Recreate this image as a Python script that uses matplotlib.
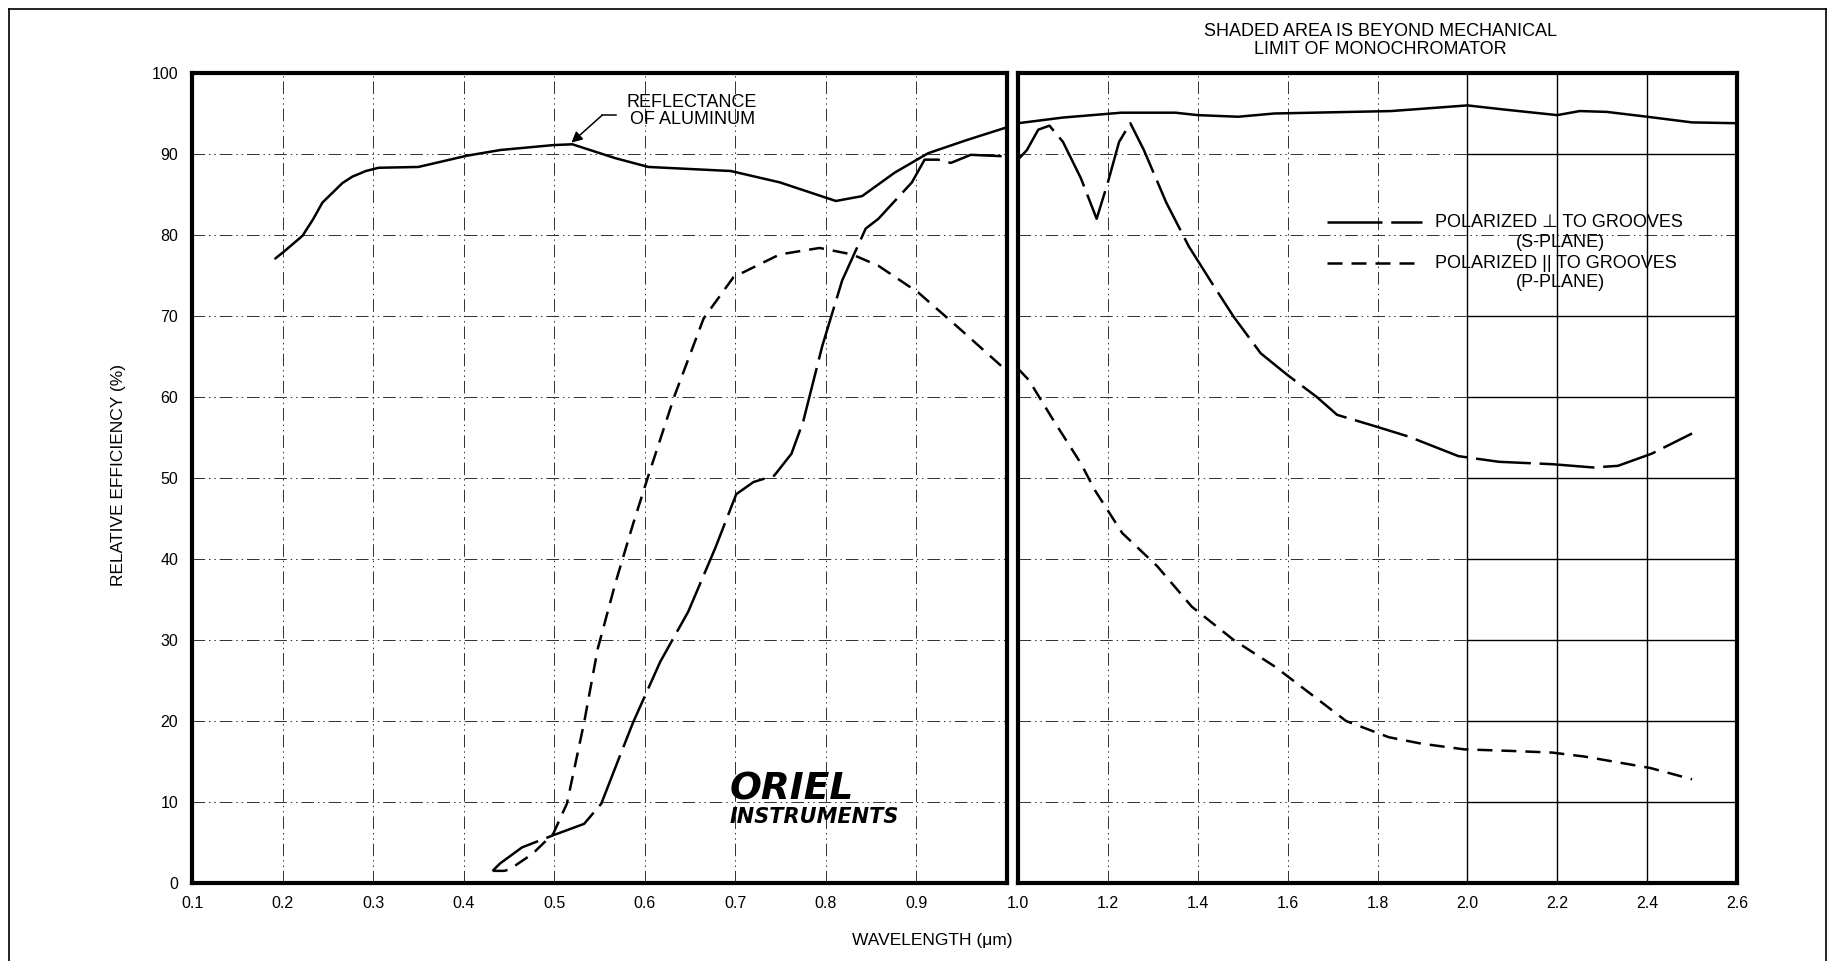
import matplotlib
matplotlib.use("Agg")
import matplotlib.pyplot as plt
from matplotlib.lines import Line2D

W, H = 1830, 961
plt.rcParams['font.family'] = ['Liberation Sans', 'DejaVu Sans']

# ---------------- data ----------------
refl_left_x = [0.192, 0.201, 0.222, 0.2335, 0.244, 0.255, 0.266, 0.277, 0.292, 0.306,
               0.350, 0.404, 0.441, 0.499, 0.520, 0.567, 0.604, 0.695, 0.749, 0.811,
               0.840, 0.876, 0.913, 0.955, 1.0]
refl_left_y = [77.1, 77.9, 79.9, 81.9, 84.0, 85.2, 86.4, 87.2, 87.9, 88.3,
               88.4, 89.8, 90.5, 91.1, 91.2, 89.5, 88.4, 87.9, 86.5, 84.2,
               84.8, 87.7, 90.1, 91.7, 93.3]
refl_right_x = [1.0, 1.1, 1.23, 1.35, 1.40, 1.49, 1.57, 1.83, 2.0, 2.08, 2.2, 2.25,
                2.31, 2.40, 2.5, 2.6]
refl_right_y = [93.8, 94.5, 95.1, 95.1, 94.8, 94.6, 95.0, 95.3, 96.0, 95.5, 94.8,
                95.3, 95.2, 94.6, 93.9, 93.8]

s_left_x = [0.432, 0.440, 0.4645, 0.499, 0.533, 0.552, 0.568, 0.587, 0.617, 0.648,
            0.678, 0.701, 0.720, 0.743, 0.762, 0.775, 0.796, 0.818, 0.844, 0.858,
            0.895, 0.909, 0.924, 0.938, 0.960, 1.0]
s_left_y = [1.5, 2.4, 4.4, 5.9, 7.3, 9.8, 14.4, 19.8, 27.3, 33.5,
            41.4, 48.0, 49.5, 50.3, 53.0, 57.0, 66.3, 74.4, 80.8, 82.0,
            86.5, 89.3, 89.3, 88.9, 89.9, 89.7]
s_right_x = [1.0, 1.02, 1.045, 1.07, 1.10, 1.14, 1.175, 1.20, 1.225, 1.25, 1.28,
             1.33, 1.38, 1.43, 1.48, 1.54, 1.60, 1.665, 1.71, 1.80, 1.87, 1.98,
             2.07, 2.19, 2.28, 2.335, 2.41, 2.5]
s_right_y = [89.3, 90.5, 93.0, 93.5, 91.5, 87.0, 82.0, 86.5, 91.5, 93.8, 90.5,
             84.0, 78.6, 74.2, 69.9, 65.4, 62.7, 60.0, 57.8, 56.3, 55.1, 52.7,
             52.0, 51.7, 51.3, 51.5, 53.0, 55.5]

p_left_x = [0.432, 0.445, 0.451, 0.476, 0.499, 0.514, 0.533, 0.548, 0.568, 0.587,
            0.604, 0.633, 0.665, 0.698, 0.749, 0.793, 0.829, 0.858, 0.902, 0.949,
            1.0]
p_left_y = [1.5, 1.5, 1.7, 3.6, 6.1, 9.8, 19.8, 28.9, 37.2, 44.3,
            50.3, 60.2, 69.7, 74.8, 77.6, 78.4, 77.6, 76.2, 72.9, 68.3,
            63.2]
p_right_x = [1.0, 1.024, 1.078, 1.14, 1.171, 1.232, 1.31, 1.387, 1.48, 1.572, 1.65,
             1.73, 1.825, 1.898, 1.993, 2.1, 2.189, 2.262, 2.407, 2.5]
p_right_y = [63.5, 62.1, 57.2, 51.8, 48.5, 43.2, 39.1, 34.1, 30.0, 26.7, 23.4,
             20.0, 18.0, 17.2, 16.5, 16.3, 16.1, 15.6, 14.2, 12.8]

left_xticks = [0.1, 0.2, 0.3, 0.4, 0.5, 0.6, 0.7, 0.8, 0.9]
left_xlabels = ['0.1', '0.2', '0.3', '0.4', '0.5', '0.6', '0.7', '0.8', '0.9']
right_xticks = [1.0, 1.2, 1.4, 1.6, 1.8, 2.0, 2.2, 2.4, 2.6]
right_xlabels = ['1.0', '1.2', '1.4', '1.6', '1.8', '2.0', '2.2', '2.4', '2.6']
yticks = [0, 10, 20, 30, 40, 50, 60, 70, 80, 90, 100]
ylabels = [str(v) for v in yticks]

shade_x0, shade_x1 = 2.0, 2.6
shade_vlines = [2.0, 2.2, 2.4]
shade_hlines = [10, 20, 30, 40, 50, 60, 70, 90]

# ---------------- figure ----------------
fig = plt.figure(figsize=(W / 100, H / 100), dpi=100)
fig.patch.set_facecolor('white')

axL = fig.add_axes([192 / W, 1 - 883 / H, (1007 - 192) / W, 810 / H])
axR = fig.add_axes([1018 / W, 1 - 883 / H, (1737 - 1018) / W, 810 / H])

grid_style = dict(color='#303030', linewidth=0.7,
                  linestyle=(0, (13, 4, 1.5, 4, 1.5, 4)))
curve_lw = 1.8

for ax, xt, xl, xlim in [(axL, left_xticks, left_xlabels, (0.1, 1.0)),
                         (axR, right_xticks, right_xlabels, (1.0, 2.6))]:
    ax.set_xlim(*xlim)
    ax.set_ylim(0, 100)
    ax.set_xticks(xt)
    ax.set_xticklabels(xl, fontsize=11.5)
    ax.set_yticks(yticks)
    ax.grid(True, **grid_style)
    ax.set_axisbelow(True)
    for sp in ax.spines.values():
        sp.set_linewidth(3.0)
        sp.set_color('black')
    ax.tick_params(length=0, pad=9.5)

axL.set_yticklabels(ylabels, fontsize=11.5)
axL.tick_params(axis='y', pad=10)
axR.tick_params(labelleft=False)

# "shaded" region: solid grid
axR.vlines(shade_vlines, 0, 100, color='black', linewidth=1.0, zorder=1)
axR.hlines(shade_hlines, shade_x0, shade_x1, color='black', linewidth=1.0, zorder=1)

# curves
axL.plot(refl_left_x, refl_left_y, color='black', lw=curve_lw, solid_capstyle='round',
         solid_joinstyle='round')
axR.plot(refl_right_x, refl_right_y, color='black', lw=curve_lw, solid_capstyle='round',
         solid_joinstyle='round')
axL.plot(s_left_x, s_left_y, color='black', lw=curve_lw, dashes=(22, 3.5))
axR.plot(s_right_x, s_right_y, color='black', lw=curve_lw, dashes=(22, 3.5))
axL.plot(p_left_x, p_left_y, color='black', lw=curve_lw, dashes=(6, 3.6))
axR.plot(p_right_x, p_right_y, color='black', lw=curve_lw, dashes=(6, 3.6))

# annotation: reflectance of aluminum
axL.plot([0.553, 0.568], [94.8, 94.8], color='black', lw=1.1)
axL.annotate('', xy=(0.519, 91.4), xytext=(0.553, 94.8),
             arrowprops=dict(arrowstyle='-|>', color='black', lw=1.1,
                             mutation_scale=16, shrinkA=0, shrinkB=0))
fig.text(627 / W, 1 - 111 / H, 'REFLECTANCE\nOF ALUMINUM', ha='left', va='center',
         fontsize=13, linespacing=0.95, multialignment='center')

# legend (drawn by hand)
axR.plot([0.430, 0.562], [0.816, 0.816], transform=axR.transAxes, color='black',
         lw=curve_lw, dashes=(22, 3.5))
axR.plot([0.430, 0.562], [0.765, 0.765], transform=axR.transAxes, color='black',
         lw=curve_lw, dashes=(6, 3.6))
axR.text(0.580, 0.816, 'POLARIZED \u22a5 TO GROOVES', transform=axR.transAxes,
         ha='left', va='center', fontsize=13)
axR.text(0.754, 0.791, '(S-PLANE)', transform=axR.transAxes,
         ha='center', va='center', fontsize=13)
axR.text(0.580, 0.765, 'POLARIZED || TO GROOVES', transform=axR.transAxes,
         ha='left', va='center', fontsize=13)
axR.text(0.754, 0.741, '(P-PLANE)', transform=axR.transAxes,
         ha='center', va='center', fontsize=13)

# title
fig.text(1380 / W, 1 - 32 / H, 'SHADED AREA IS BEYOND MECHANICAL', ha='center',
         va='center', fontsize=13)
fig.text(1380 / W, 1 - 49 / H, 'LIMIT OF MONOCHROMATOR', ha='center',
         va='center', fontsize=13)

# axis labels
fig.text(119 / W, 1 - 475 / H, 'RELATIVE EFFICIENCY (%)', rotation=90,
         ha='center', va='center', fontsize=12.5)
fig.text(932 / W, 1 - 940 / H, 'WAVELENGTH (\u03bcm)', ha='center', va='center',
         fontsize=12.5)

# logo
fig.text(730 / W, 1 - 790 / H, 'ORIEL', ha='left', va='center', fontsize=27,
         fontweight='bold', fontstyle='oblique', family='DejaVu Sans')
fig.text(730 / W, 1 - 817 / H, 'INSTRUMENTS', ha='left', va='center', fontsize=15,
         fontweight='bold', fontstyle='oblique', family='DejaVu Sans')

# page border
fig.add_artist(Line2D([9 / W, 1826 / W], [1 - 9 / H, 1 - 9 / H],
                      transform=fig.transFigure, color='black', lw=1.2))
fig.add_artist(Line2D([9 / W, 9 / W], [0, 1 - 9 / H],
                      transform=fig.transFigure, color='black', lw=1.2))
fig.add_artist(Line2D([1826 / W, 1826 / W], [0, 1 - 9 / H],
                      transform=fig.transFigure, color='black', lw=1.2))

fig.savefig('out.png', dpi=100, facecolor='white')
